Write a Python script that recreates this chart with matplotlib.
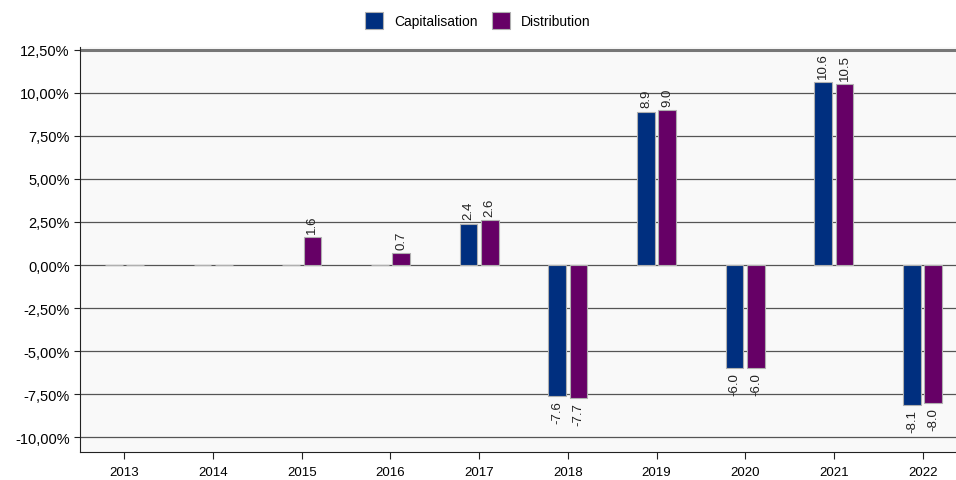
import matplotlib.pyplot as plt
import numpy as np
from matplotlib.ticker import FuncFormatter

years = ["2013", "2014", "2015", "2016", "2017", "2018", "2019", "2020", "2021", "2022"]
capitalisation = [0.0, 0.0, 0.0, 0.0, 2.4, -7.6, 8.9, -6.0, 10.6, -8.1]
distribution = [0.0, 0.0, 1.6, 0.7, 2.6, -7.7, 9.0, -6.0, 10.5, -8.0]
series_names = ["Capitalisation", "Distribution"]
yticks = [-10.0, -7.5, -5.0, -2.5, 0.0, 2.5, 5.0, 7.5, 10.0, 12.5]

plt.rcParams["font.family"] = ["Liberation Sans Narrow", "Liberation Sans", "DejaVu Sans"]

fig = plt.figure(figsize=(9.56, 4.81), dpi=100)
ax = fig.add_axes([80 / 956, (481 - 453) / 481, 887 / 956, (453 - 48) / 481])
ax.set_facecolor("#f9f9f9")

x = np.arange(len(years))
width = 0.2
colors = ["#002f7f", "#660066"]
for offset, values, color, name in [
    (-0.12, capitalisation, colors[0], series_names[0]),
    (0.12, distribution, colors[1], series_names[1]),
]:
    bars = ax.bar(x + offset, values, width, color=color, edgecolor="#b0b0b0",
                  linewidth=0.8, label=name, zorder=3)
    for bar, v in zip(bars, values):
        if v == 0:
            continue
        ax.annotate(f"{v:.1f}", (bar.get_x() + bar.get_width() / 2, v),
                    xytext=(0, 3 if v > 0 else -3), textcoords="offset points",
                    rotation=90, ha="center", va="bottom" if v > 0 else "top",
                    fontsize=9.5, color="#222222")

ax.set_xlim(-0.5, 9.5)
ax.set_ylim(-10.85, 12.65)
ax.set_yticks(yticks)
ax.yaxis.set_major_formatter(FuncFormatter(lambda v, _: f"{v:.2f}%".replace(".", ",")))
ax.set_xticks(x)
ax.set_xticklabels(years)
ax.grid(axis="y", color="#555555", linewidth=0.9, zorder=1)
ax.axhline(12.5, color="#777777", linewidth=2.2, zorder=2)

for side in ["top", "right"]:
    ax.spines[side].set_visible(False)
ax.spines["left"].set_color("#222222")
ax.spines["bottom"].set_color("#222222")
ax.tick_params(axis="y", labelsize=10.5, length=4, color="#222222")
ax.tick_params(axis="x", labelsize=9.5, length=5, pad=5, color="#222222")

fig.legend(loc="upper center", bbox_to_anchor=(0.5, 1.0), ncol=2, frameon=False,
           fontsize=10, handlelength=1.3, handleheight=1.6, columnspacing=1.0)

fig.savefig("out.png", dpi=100)
